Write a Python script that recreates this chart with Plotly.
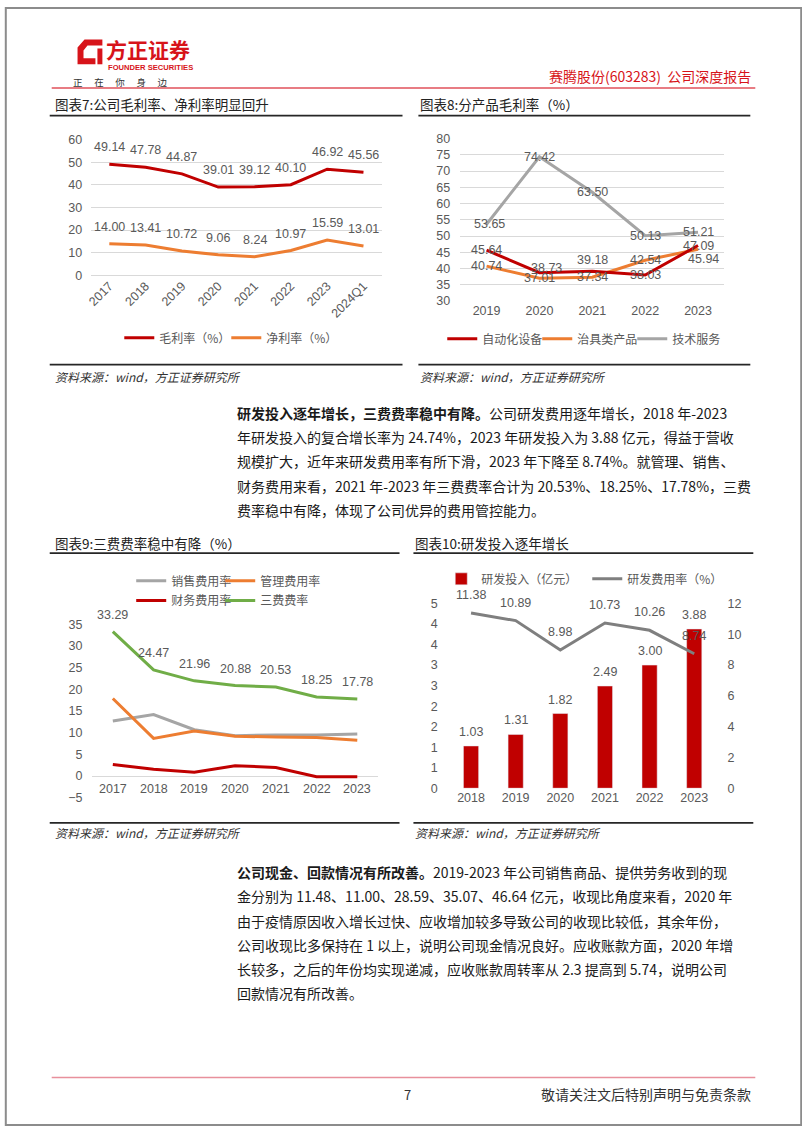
import plotly.graph_objects as go

W, H = 802, 1133
def px(x): return x / W
def py(y): return 1 - y / H

# ---------------- data ----------------
years7 = ["2017", "2018", "2019", "2020", "2021", "2022", "2023", "2024Q1"]
gross7 = [49.14, 47.78, 44.87, 39.01, 39.12, 40.10, 46.92, 45.56]
net7 = [14.00, 13.41, 10.72, 9.06, 8.24, 10.97, 15.59, 13.01]

years8 = ["2019", "2020", "2021", "2022", "2023"]
auto8 = [45.64, 38.73, 39.18, 38.03, 47.09]
fixture8 = [40.74, 37.01, 37.34, 42.54, 45.94]
service8 = [53.65, 74.42, 63.50, 50.13, 51.21]

years9 = ["2017", "2018", "2019", "2020", "2021", "2022", "2023"]
sales9 = [12.7, 14.2, 10.7, 9.3, 9.5, 9.5, 9.7]
admin9 = [17.9, 8.7, 10.4, 9.2, 9.0, 8.9, 8.25]
fin9 = [2.7, 1.6, 0.9, 2.4, 2.0, -0.15, -0.17]
total9 = [33.29, 24.47, 21.96, 20.88, 20.53, 18.25, 17.78]

years10 = ["2018", "2019", "2020", "2021", "2022", "2023"]
rd10 = [1.03, 1.31, 1.82, 2.49, 3.00, 3.88]
rdrate10 = [11.38, 10.89, 8.98, 10.73, 10.26, 8.74]
left10_ticks = [0, 0.5, 1, 1.5, 2, 2.5, 3, 3.5, 4, 4.5]
left10_text = ["0", "1", "1", "2", "2", "3", "3", "4", "4", "5"]

# ---------------- styles ----------------
RED = "#C00000"
ORANGE = "#ED7D31"
GRAY = "#A5A5A5"
DGRAY = "#7F7F7F"
GREEN = "#70AD47"
LBL = "#595959"
NUMF = "Liberation Sans, Noto Sans CJK SC, sans-serif"
CJK = "Noto Sans CJK SC, sans-serif"
GRID = "#D9D9D9"

fig = go.Figure()

# chart 7
fig.add_trace(go.Scatter(x=years7, y=gross7, mode="lines", name="毛利率（%）",
                         line=dict(color=RED, width=3), xaxis="x", yaxis="y", legend="legend"))
fig.add_trace(go.Scatter(x=years7, y=net7, mode="lines", name="净利率（%）",
                         line=dict(color=ORANGE, width=3), xaxis="x", yaxis="y", legend="legend"))
# chart 8
fig.add_trace(go.Scatter(x=years8, y=service8, mode="lines", name="技术服务",
                         line=dict(color=GRAY, width=3), xaxis="x2", yaxis="y2", legend="legend2",
                         legendrank=3))
fig.add_trace(go.Scatter(x=years8, y=fixture8, mode="lines", name="治具类产品",
                         line=dict(color=ORANGE, width=3), xaxis="x2", yaxis="y2", legend="legend2",
                         legendrank=2))
fig.add_trace(go.Scatter(x=years8, y=auto8, mode="lines", name="自动化设备",
                         line=dict(color=RED, width=3), xaxis="x2", yaxis="y2", legend="legend2",
                         legendrank=1))
# chart 9
fig.add_trace(go.Scatter(x=years9, y=sales9, mode="lines", name="销售费用率",
                         line=dict(color=GRAY, width=3), xaxis="x3", yaxis="y3", legend="legend3"))
fig.add_trace(go.Scatter(x=years9, y=admin9, mode="lines", name="管理费用率",
                         line=dict(color=ORANGE, width=3), xaxis="x3", yaxis="y3", legend="legend3"))
fig.add_trace(go.Scatter(x=years9, y=fin9, mode="lines", name="财务费用率",
                         line=dict(color=RED, width=3), xaxis="x3", yaxis="y3", legend="legend5"))
fig.add_trace(go.Scatter(x=years9, y=total9, mode="lines", name="三费费率",
                         line=dict(color=GREEN, width=3), xaxis="x3", yaxis="y3", legend="legend5"))
# blank spacer entries so the last legend texts are not clipped
for lg in ("legend3", "legend5"):
    fig.add_trace(go.Scatter(x=[None], y=[None], mode="lines", name=" ", hoverinfo="skip",
                             line=dict(color="rgba(0,0,0,0)", width=0), xaxis="x3", yaxis="y3",
                             legend=lg))
# chart 10
fig.add_trace(go.Bar(x=years10, y=rd10, name="研发投入（亿元）", marker=dict(color=RED),
                     width=0.34, xaxis="x4", yaxis="y4", legend="legend4"))
fig.add_trace(go.Scatter(x=years10, y=rdrate10, mode="lines", name="研发费用率（%）",
                         line=dict(color=DGRAY, width=3), xaxis="x4", yaxis="y5", legend="legend4"))

ann = []
def lab(i, y, text, xr, yr, xs=0, ys=0, size=12.5, color=LBL):
    # i = category serial number on a category axis
    ann.append(dict(x=i, y=y, xref=xr, yref=yr, text=text, showarrow=False,
                    xshift=xs, yshift=ys, font=dict(family=NUMF, size=size, color=color)))

for i, yv in enumerate(gross7):
    lab(i, yv, f"{yv:.2f}", "x", "y", ys=17)
for i, yv in enumerate(net7):
    lab(i, yv, f"{yv:.2f}", "x", "y", ys=17)

shift8_auto = [(0, 0), (7, 5), (0, 11), (0, 0), (0, 0)]
shift8_fix = [(0, 0), (0, 0), (0, 0), (0, 0), (5, -10)]
shift8_srv = [(3, 0), (0, 0), (0, 0), (0, 0), (0, 0)]
for i, (yv, (a, b)) in enumerate(zip(service8, shift8_srv)):
    lab(i, yv, f"{yv:.2f}", "x2", "y2", xs=a, ys=b)
for i, (yv, (a, b)) in enumerate(zip(auto8, shift8_auto)):
    lab(i, yv, f"{yv:.2f}", "x2", "y2", xs=a, ys=b)
for i, (yv, (a, b)) in enumerate(zip(fixture8, shift8_fix)):
    lab(i, yv, f"{yv:.2f}", "x2", "y2", xs=a, ys=b)

for i, yv in enumerate(total9):
    lab(i, yv, f"{yv:.2f}", "x3", "y3", ys=17)
for i, xv in enumerate(years9):
    lab(i, 0, xv, "x3", "y3", ys=-13)

for i, yv in enumerate(rd10):
    lab(i, yv, f"{yv:.2f}", "x4", "y4", ys=14)
for i, yv in enumerate(rdrate10):
    lab(i, yv, f"{yv:.2f}", "x4", "y5", ys=18)

# ---------- page text ----------
def ptxt(x, y, text, size=13, color="#1a1a1a", xa="left", fam=CJK, italic=False):
    if italic:
        text = f"<i>{text}</i>"
    ann.append(dict(x=px(x), y=py(y), xref="paper", yref="paper", text=text, showarrow=False,
                    xanchor=xa, yanchor="middle", font=dict(family=fam, size=size, color=color)))

ptxt(100, 43, "<b>方正证券</b>", size=21, color="#D7141A")
ptxt(102, 61.5, "<b>FOUNDER SECURITIES</b>", size=7.6, color="#D7141A", fam="Liberation Sans, sans-serif")
ptxt(66, 76, "正　 在　 你　 身　 边", size=9.5, color="#333333")
ptxt(753, 70, "赛腾股份(603283)  公司深度报告", size=14, color="#D7141A", xa="right")

ptxt(48, 98, "图表7:公司毛利率、净利率明显回升", size=13.5, color="#222222")
ptxt(416, 98, "图表8:分产品毛利率（%）", size=13.5, color="#222222")
ptxt(48, 543, "图表9:三费费率稳中有降（%）", size=13.5, color="#222222")
ptxt(411, 543, "图表10:研发投入逐年增长", size=13.5, color="#222222")

src = "资料来源：wind，方正证券研究所"
ptxt(48, 374, src, size=12, color="#333333", italic=True)
ptxt(416, 374, src, size=12, color="#333333", italic=True)
ptxt(48, 836, src, size=12, color="#333333", italic=True)
ptxt(411, 836, src, size=12, color="#333333", italic=True)

para1 = [
    "<b>研发投入逐年增长，三费费率稳中有降。</b>公司研发费用逐年增长，2018 年-2023",
    "年研发投入的复合增长率为 24.74%，2023 年研发投入为 3.88 亿元，得益于营收",
    "规模扩大，近年来研发费用率有所下滑，2023 年下降至 8.74%。就管理、销售、",
    "财务费用来看，2021 年-2023 年三费费率合计为 20.53%、18.25%、17.78%，三费",
    "费率稳中有降，体现了公司优异的费用管控能力。",
]
for i, t in enumerate(para1):
    ptxt(231, 411 + i * 24.5, t, size=14)

para2 = [
    "<b>公司现金、回款情况有所改善。</b>2019-2023 年公司销售商品、提供劳务收到的现",
    "金分别为 11.48、11.00、28.59、35.07、46.64 亿元，收现比角度来看，2020 年",
    "由于疫情原因收入增长过快、应收增加较多导致公司的收现比较低，其余年份，",
    "公司收现比多保持在 1 以上，说明公司现金情况良好。应收账款方面，2020 年增",
    "长较多，之后的年份均实现递减，应收账款周转率从 2.3 提高到 5.74，说明公司",
    "回款情况有所改善。",
]
for i, t in enumerate(para2):
    ptxt(231, 876 + i * 24.5, t, size=14)

ptxt(405, 1101, "7", size=13, color="#333333", xa="center")
ptxt(753, 1101, "敬请关注文后特别声明与免责条款", size=14, color="#333333", xa="right")

# ---------- shapes ----------
shapes = []
def hline(x0, x1, y, color, width):
    shapes.append(dict(type="line", xref="paper", yref="paper", x0=px(x0), x1=px(x1),
                       y0=py(y), y1=py(y), line=dict(color=color, width=width)))

hline(47, 755, 82, "#E0505A", 1.5)
hline(47, 755, 1084, "#E8909C", 1.5)
hline(45, 400, 110, "#262626", 1.8)
hline(416, 750, 110, "#262626", 1.8)
hline(45, 400, 362, "#262626", 1.8)
hline(416, 750, 362, "#262626", 1.8)
hline(45, 397, 553, "#262626", 1.8)
hline(411, 753, 553, "#262626", 1.8)
hline(45, 397, 826, "#262626", 1.8)
hline(411, 753, 826, "#262626", 1.8)

# logo mark
def P(x, y): return f"{px(x):.5f},{py(y):.5f}"
logo1 = ("M " + P(80, 33) + " L " + P(98, 33) + " L " + P(98, 39) + " L " + P(83, 39) +
         " L " + P(79, 44) + " L " + P(79, 52) + " L " + P(91, 52) + " L " + P(91, 58) +
         " L " + P(73, 58) + " L " + P(73, 41) + " Z")
logo2 = "M " + P(93, 42) + " L " + P(98, 42) + " L " + P(98, 58) + " L " + P(93, 58) + " Z"
for pth in (logo1, logo2):
    shapes.append(dict(type="path", xref="paper", yref="paper", path=pth,
                       fillcolor="#D7141A", line=dict(width=0)))

# page border
shapes.append(dict(type="rect", xref="paper", yref="paper", x0=0.001, x1=0.999, y0=0.001, y1=0.999,
                   line=dict(color="#8c8c8c", width=2)))

tickf = dict(family=NUMF, size=12.5, color=LBL)
legf = dict(family=CJK, size=12, color=LBL)

def legend(x, y, ew):
    return dict(orientation="h", x=px(x), y=py(y), xanchor="left", yanchor="middle",
                font=legf, bgcolor="rgba(0,0,0,0)", entrywidth=ew, entrywidthmode="pixels",
                itemwidth=30, tracegroupgap=0)

def catrange(cats):
    return [-0.5, len(cats) - 0.5]

fig.update_layout(
    autosize=True, margin=dict(l=0, r=0, t=0, b=0),
    paper_bgcolor="white", plot_bgcolor="white",
    showlegend=True,
    annotations=ann, shapes=shapes,
    legend=legend(115, 335, 62),
    legend2=legend(440, 336, 50),
    legend3=legend(127, 581, 44),
    legend5=legend(127, 601, 44),
    legend4=legend(439, 579, 101),
    xaxis=dict(domain=[px(86.7), px(379)], type="category", range=catrange(years7),
               tickangle=-45, tickfont=tickf, showgrid=False, showline=False, anchor="y", ticks=""),
    yaxis=dict(domain=[py(271.7), py(134.3)], range=[0, 60], dtick=10, tickfont=tickf,
               showgrid=True, gridcolor=GRID, zeroline=True, zerolinecolor=GRID, zerolinewidth=1,
               anchor="x", ticklabelstandoff=8),
    xaxis2=dict(domain=[px(458), px(724)], type="category", range=catrange(years8),
                tickfont=tickf, showgrid=False, anchor="y2", ticks=""),
    yaxis2=dict(domain=[py(297.7), py(133.3)], range=[30, 80], dtick=5, tickfont=tickf,
                showgrid=True, gridcolor=GRID, zeroline=False, anchor="x2", ticklabelstandoff=9),
    xaxis3=dict(domain=[px(88), px(375)], type="category", range=catrange(years9),
                showticklabels=False, showgrid=False, anchor="y3", ticks=""),
    yaxis3=dict(domain=[py(800.7), py(625)], range=[-5, 35], dtick=5, tickfont=tickf,
                showgrid=False, zeroline=True, zerolinecolor=GRID, zerolinewidth=1,
                anchor="x3", ticklabelstandoff=9),
    xaxis4=dict(domain=[px(446.5), px(716)], type="category", range=catrange(years10),
                tickfont=tickf, showgrid=False, anchor="y4", ticks=""),
    yaxis4=dict(domain=[py(791), py(604)], range=[0, 4.5], tickvals=left10_ticks,
                ticktext=left10_text, tickfont=tickf, showgrid=False, zeroline=False,
                anchor="x4", ticklabelstandoff=10),
    yaxis5=dict(overlaying="y4", side="right", range=[0, 12], dtick=2, tickfont=tickf,
                showgrid=False, zeroline=False, anchor="x4", ticklabelstandoff=10),
)

fig.write_html("out.html",
               config={"displayModeBar": False},
               default_width=f"{W}px",
               default_height=f"{H}px;position:absolute;left:0;top:0")
